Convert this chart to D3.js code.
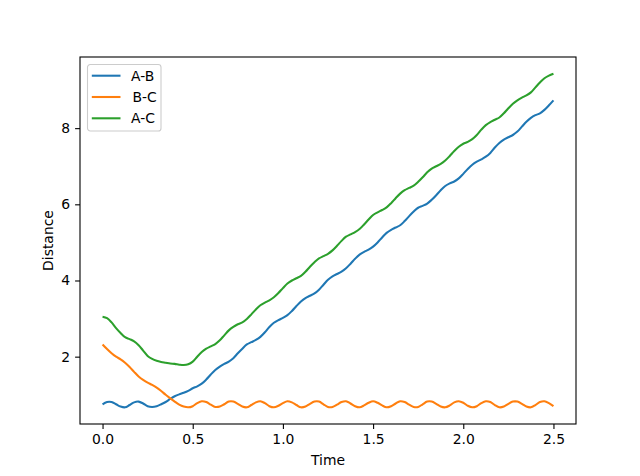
<!DOCTYPE html>
<html>
<head>
<meta charset="utf-8">
<script src="https://cdn.jsdelivr.net/npm/d3@7"></script>
<style>
  body { margin: 0; background: #fff; }
  svg { display: block; }
  text { font-family: "DejaVu Sans", sans-serif; fill: #000; }
</style>
</head>
<body>
<svg id="mainsvg" width="640" height="476"></svg>
<script>
// sample times, every 0.025 from 0 to 2.5
let times = d3.range(101).map(i => +(i * 0.025).toFixed(3));

let distAB = [
    0.75, 0.81, 0.81, 0.75, 0.69, 0.67, 0.73, 0.80, 0.82, 0.77,
    0.70, 0.68, 0.70, 0.75, 0.81, 0.89, 0.96, 1.01, 1.05, 1.10,
    1.17, 1.22, 1.29, 1.40, 1.53, 1.65, 1.74, 1.81, 1.87, 1.96,
    2.09, 2.21, 2.32, 2.38, 2.44, 2.52, 2.64, 2.78, 2.89, 2.96,
    3.02, 3.09, 3.20, 3.33, 3.45, 3.54, 3.60, 3.66, 3.76, 3.89,
    4.02, 4.11, 4.17, 4.23, 4.32, 4.44, 4.57, 4.68, 4.75, 4.81,
    4.89, 5.00, 5.13, 5.25, 5.33, 5.39, 5.45, 5.56, 5.69, 5.81,
    5.91, 5.96, 6.02, 6.12, 6.24, 6.37, 6.48, 6.55, 6.60, 6.68,
    6.80, 6.93, 7.04, 7.12, 7.18, 7.25, 7.35, 7.49, 7.61, 7.70,
    7.76, 7.82, 7.91, 8.04, 8.17, 8.27, 8.34, 8.39, 8.48, 8.60,
    8.73
];

let distBC = [
    2.32, 2.20, 2.09, 2.00, 1.93, 1.84, 1.73, 1.60, 1.48, 1.39,
    1.32, 1.26, 1.19, 1.10, 1.00, 0.91, 0.82, 0.74, 0.69, 0.67,
    0.70, 0.78, 0.83, 0.81, 0.74, 0.68, 0.69, 0.75, 0.82, 0.82,
    0.76, 0.69, 0.67, 0.73, 0.80, 0.83, 0.78, 0.70, 0.67, 0.71,
    0.78, 0.83, 0.80, 0.73, 0.67, 0.69, 0.76, 0.82, 0.82, 0.75,
    0.68, 0.68, 0.74, 0.81, 0.83, 0.77, 0.70, 0.67, 0.72, 0.79,
    0.83, 0.79, 0.72, 0.67, 0.70, 0.77, 0.83, 0.81, 0.74, 0.68,
    0.68, 0.75, 0.82, 0.82, 0.76, 0.69, 0.67, 0.72, 0.80, 0.83,
    0.79, 0.71, 0.67, 0.70, 0.78, 0.83, 0.81, 0.73, 0.67, 0.69,
    0.76, 0.82, 0.82, 0.76, 0.69, 0.67, 0.73, 0.81, 0.83, 0.78,
    0.70
];

let distAC = [
    3.05, 3.01, 2.90, 2.75, 2.62, 2.51, 2.46, 2.40, 2.30, 2.16,
    2.02, 1.94, 1.89, 1.86, 1.84, 1.82, 1.81, 1.79, 1.78, 1.80,
    1.87, 2.00, 2.12, 2.21, 2.27, 2.33, 2.43, 2.56, 2.69, 2.78,
    2.85, 2.90, 2.99, 3.11, 3.24, 3.35, 3.42, 3.48, 3.56, 3.67,
    3.80, 3.92, 4.00, 4.06, 4.12, 4.23, 4.36, 4.48, 4.58, 4.64,
    4.70, 4.79, 4.91, 5.04, 5.15, 5.21, 5.27, 5.35, 5.47, 5.60,
    5.72, 5.79, 5.85, 5.92, 6.03, 6.16, 6.28, 6.37, 6.43, 6.49,
    6.59, 6.71, 6.84, 6.94, 7.00, 7.06, 7.15, 7.27, 7.40, 7.51,
    7.59, 7.64, 7.71, 7.82, 7.96, 8.08, 8.16, 8.22, 8.28, 8.39,
    8.52, 8.64, 8.73, 8.80, 8.86, 8.94, 9.07, 9.20, 9.31, 9.38,
    9.43
];

let seriesNames = ["A-B", "B-C", "A-C"];
let seriesColors = ["#1f77b4", "#ff7f0e", "#2ca02c"];
let xTicks = [0.0, 0.5, 1.0, 1.5, 2.0, 2.5];
let yTicks = [2, 4, 6, 8];

let svg = d3.select("#mainsvg");
let plot = {left: 80, right: 576, top: 57, bottom: 424};

let allSeries = [distAB, distBC, distAC];
let xExt = d3.extent(times);
let yExt = d3.extent(allSeries.flat());
let xPad = (xExt[1] - xExt[0]) * 0.05;
let yPad = (yExt[1] - yExt[0]) * 0.05;

let x = d3.scaleLinear()
    .domain([xExt[0] - xPad, xExt[1] + xPad])
    .range([plot.left, plot.right]);
let y = d3.scaleLinear()
    .domain([yExt[0] - yPad, yExt[1] + yPad])
    .range([plot.bottom, plot.top]);

let line = d3.line()
    .x((d, i) => x(times[i]))
    .y(d => y(d))
    .curve(d3.curveCatmullRom);

svg.append("clipPath").attr("id", "clip")
    .append("rect")
    .attr("x", plot.left).attr("y", plot.top)
    .attr("width", plot.right - plot.left)
    .attr("height", plot.bottom - plot.top);
let linesG = svg.append("g")
    .attr("clip-path", "url(#clip)");

allSeries.forEach((vals, k) => {
    linesG.append("path")
        .datum(vals)
        .attr("d", line)
        .attr("fill", "none")
        .attr("stroke", seriesColors[k])
        .attr("stroke-width", 2.08)
        .attr("stroke-linejoin", "round")
        .attr("stroke-linecap", "butt");
});

// axes
let xAxis = svg.append("g")
    .attr("transform", `translate(0,${plot.bottom})`)
    .call(d3.axisBottom(x).tickValues(xTicks).tickFormat(d3.format(".1f"))
        .tickSize(4.9).tickPadding(4.9).tickSizeOuter(0));
let yAxis = svg.append("g")
    .attr("transform", `translate(${plot.left},0)`)
    .call(d3.axisLeft(y).tickValues(yTicks).tickFormat(d3.format("d"))
        .tickSize(4.9).tickPadding(4.9).tickSizeOuter(0));

[xAxis, yAxis].forEach(ax => {
    ax.select(".domain").remove();
    ax.selectAll(".tick line").attr("stroke", "#000").attr("stroke-width", 1.1);
    ax.selectAll(".tick text")
        .attr("font-family", "DejaVu Sans")
        .attr("font-size", 13.9)
        .attr("fill", "#000");
});

// frame
svg.append("rect")
    .attr("x", plot.left).attr("y", plot.top)
    .attr("width", plot.right - plot.left)
    .attr("height", plot.bottom - plot.top)
    .attr("fill", "none")
    .attr("stroke", "#000")
    .attr("stroke-width", 1.1);

// axis labels
svg.append("text")
    .attr("x", (plot.left + plot.right) / 2)
    .attr("y", 465)
    .attr("text-anchor", "middle")
    .attr("font-size", 13.9)
    .text("Time");
svg.append("text")
    .attr("transform", `translate(53,${(plot.top + plot.bottom) / 2}) rotate(-90)`)
    .attr("text-anchor", "middle")
    .attr("font-size", 13.9)
    .text("Distance");

// legend
let legend = svg.append("g").attr("transform", "translate(87.5,64.5)");
legend.append("rect")
    .attr("width", 73.5).attr("height", 66.5)
    .attr("rx", 2.8).attr("ry", 2.8)
    .attr("fill", "#fff").attr("fill-opacity", 0.8)
    .attr("stroke", "#cccccc").attr("stroke-width", 1.1);
seriesNames.forEach((name, k) => {
    let ly = 11.2 + k * 21.3;
    legend.append("line")
        .attr("x1", 4.3).attr("x2", 33)
        .attr("y1", ly).attr("y2", ly)
        .attr("stroke", seriesColors[k])
        .attr("stroke-width", 2.08);
    legend.append("text")
        .attr("x", name === "B-C" ? 45 : 43.5)
        .attr("y", ly)
        .attr("dy", "0.36em")
        .attr("font-size", 13.9)
        .text(name);
});
</script>
</body>
</html>
